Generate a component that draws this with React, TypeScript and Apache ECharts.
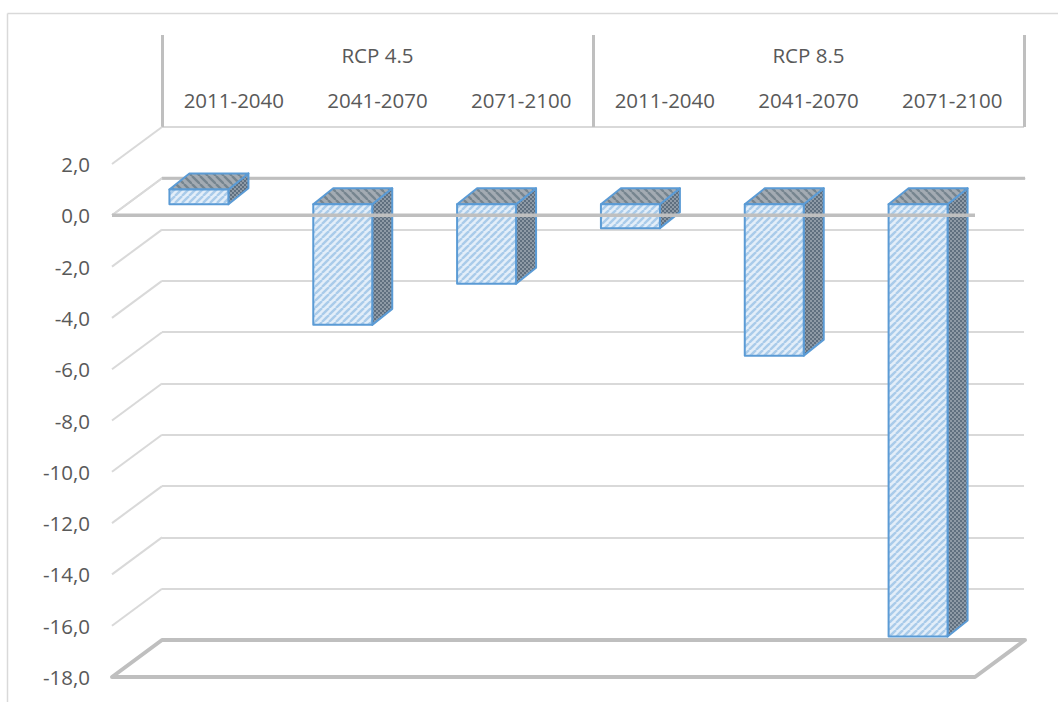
import React, { useEffect, useRef } from "react";
import * as echarts from "echarts";

const periods = ["2011-2040", "2041-2070", "2071-2100", "2011-2040", "2041-2070", "2071-2100"];
const scenarios = ["RCP 4.5", "RCP 8.5"];
const changes = [0.58, -4.7, -3.1, -0.93, -5.9, -16.85];
const gridValues = [2, 0, -2, -4, -6, -8, -10, -12, -14, -16, -18];
const baseValues = [0];
const floorValues = [-18];

const FONT = '"Open Sans", sans-serif';
const TEXT = "#595959";
const LIGHT = "#d9d9d9";
const DARK = "#bfbfbf";
const BLUE = "#5b9bd5";

const WALL_DX = 50;
const WALL_DY = -37;
const BAR_DX = 15;
const BAR_DY = -11;
const DEPTH_DX = 20;
const DEPTH_DY = -16;

function tile(size: number, draw: (c: CanvasRenderingContext2D) => void, bg: string) {
  const cv = document.createElement("canvas");
  cv.width = size;
  cv.height = size;
  const c = cv.getContext("2d")!;
  c.fillStyle = bg;
  c.fillRect(0, 0, size, size);
  draw(c);
  return { image: cv, repeat: "repeat" as const };
}

function stripes(size: number, bg: string, fg: string, width: number, up: boolean) {
  return tile(
    size,
    (c) => {
      c.strokeStyle = fg;
      c.lineWidth = width;
      for (let k = -size; k <= size; k += size) {
        c.beginPath();
        if (up) {
          c.moveTo(k, size);
          c.lineTo(k + size, 0);
        } else {
          c.moveTo(k, 0);
          c.lineTo(k + size, size);
        }
        c.stroke();
      }
    },
    bg
  );
}

function dots(size: number, bg: string, fg: string) {
  return tile(
    size,
    (c) => {
      c.fillStyle = fg;
      c.fillRect(0, 0, size / 2, size / 2);
      c.fillRect(size / 2, size / 2, size / 2, size / 2);
    },
    bg
  );
}

export default function App() {
  const ref = useRef<HTMLDivElement>(null);
  useEffect(() => {
    if (!ref.current) return;
    const chart = echarts.init(ref.current, undefined, { renderer: "svg" });
    const frontFill = stripes(7, "#e3eef9", "#a9cbea", 2.4, true);
    const topFill = stripes(8, "#a3abb3", "#76858f", 2.4, false);
    const sideFill = dots(4, "#8e9aa6", "#5f6f7f");

    const sideLine = (params: any, api: any) => {
      const p = api.coord([0, api.value(1)]);
      const half = api.size([1, 0])[0] / 2;
      const x = p[0] - half;
      const y = p[1];
      return {
        type: "line",
        shape: { x1: x, y1: y, x2: x + WALL_DX, y2: y + WALL_DY },
        style: { stroke: LIGHT, lineWidth: 2, fill: "none" },
      };
    };

    const floor = (params: any, api: any) => {
      const a = api.coord([0, api.value(1)]);
      const b = api.coord([periods.length - 1, api.value(1)]);
      const half = api.size([1, 0])[0] / 2;
      const l = a[0] - half;
      const r = b[0] + half;
      const y = a[1];
      return {
        type: "polygon",
        shape: {
          points: [
            [l, y],
            [l + WALL_DX, y + WALL_DY],
            [r + WALL_DX, y + WALL_DY],
            [r, y],
          ],
        },
        style: { stroke: DARK, lineWidth: 4, fill: "#ffffff", lineJoin: "round" },
      };
    };

    const backBase = (params: any, api: any) => {
      const a = api.coord([0, api.value(1)]);
      const b = api.coord([periods.length - 1, api.value(1)]);
      const half = api.size([1, 0])[0] / 2;
      return {
        type: "group",
        children: [
          {
            type: "line",
            shape: {
              x1: a[0] - half + WALL_DX,
              y1: a[1] + WALL_DY,
              x2: b[0] + half + WALL_DX,
              y2: b[1] + WALL_DY,
            },
            style: { stroke: DARK, lineWidth: 3 },
          },
          {
            type: "line",
            shape: {
              x1: a[0] - half,
              y1: a[1],
              x2: a[0] - half + WALL_DX,
              y2: a[1] + WALL_DY,
            },
            style: { stroke: LIGHT, lineWidth: 2 },
          },
        ],
      };
    };

    const frontBase = (params: any, api: any) => {
      const a = api.coord([0, api.value(1)]);
      const b = api.coord([periods.length - 1, api.value(1)]);
      const half = api.size([1, 0])[0] / 2;
      return {
        type: "line",
        shape: { x1: a[0] - half, y1: a[1], x2: b[0] + half, y2: b[1] },
        style: { stroke: DARK, lineWidth: 3.5 },
      };
    };

    const bar = (params: any, api: any) => {
      const i = api.value(0);
      const v = api.coord([i, api.value(1)]);
      const z = api.coord([i, 0]);
      const w = api.size([1, 0])[0] * 0.41;
      const l = v[0] + BAR_DX - w / 2;
      const r = l + w;
      const t = Math.min(v[1], z[1]) + BAR_DY;
      const b = Math.max(v[1], z[1]) + BAR_DY;
      const edge = { stroke: BLUE, lineWidth: 2, lineJoin: "round" };
      return {
        type: "group",
        children: [
          {
            type: "polygon",
            shape: {
              points: [
                [r, t],
                [r + DEPTH_DX, t + DEPTH_DY],
                [r + DEPTH_DX, b + DEPTH_DY],
                [r, b],
              ],
            },
            style: { ...edge, fill: sideFill },
          },
          {
            type: "polygon",
            shape: {
              points: [
                [l, t],
                [l + DEPTH_DX, t + DEPTH_DY],
                [r + DEPTH_DX, t + DEPTH_DY],
                [r, t],
              ],
            },
            style: { ...edge, fill: topFill },
          },
          {
            type: "polygon",
            shape: {
              points: [
                [l, t],
                [r, t],
                [r, b],
                [l, b],
              ],
            },
            style: { ...edge, fill: frontFill },
          },
        ],
      };
    };

    chart.setOption({
      animation: false,
      backgroundColor: "#ffffff",
      textStyle: { fontFamily: FONT },
      graphic: [
        { type: "line", shape: { x1: 7.5, y1: 13.5, x2: 1058, y2: 13.5 }, style: { stroke: LIGHT, lineWidth: 1.5 } },
        { type: "line", shape: { x1: 7.5, y1: 13.5, x2: 7.5, y2: 702 }, style: { stroke: LIGHT, lineWidth: 1.5 } },
      ],
      grid: [
        { left: 112, top: 164, width: 863, height: 513 },
        { left: 162, top: 127, width: 862, height: 513 },
      ],
      xAxis: [
        { gridIndex: 0, type: "category", data: periods, show: false },
        {
          gridIndex: 1,
          type: "category",
          position: "top",
          data: periods,
          axisLine: { show: true, lineStyle: { color: LIGHT, width: 3 } },
          axisTick: { show: false },
          axisLabel: { interval: 0, color: TEXT, fontSize: 20.5, fontFamily: FONT, margin: 17 },
        },
        {
          gridIndex: 1,
          type: "category",
          position: "top",
          data: scenarios,
          axisLine: { show: false },
          axisTick: { show: true, inside: false, length: 92, lineStyle: { color: DARK, width: 3 } },
          axisLabel: { interval: 0, color: TEXT, fontSize: 20.5, fontFamily: FONT, margin: 62 },
        },
      ],
      yAxis: [
        {
          gridIndex: 0,
          type: "value",
          min: -18,
          max: 2,
          interval: 2,
          axisLine: { show: false },
          axisTick: { show: false },
          splitLine: { show: false },
          axisLabel: {
            color: TEXT,
            fontSize: 20.5,
            fontFamily: FONT,
            margin: 22,
            formatter: (v: number) => v.toFixed(1).replace(".", ","),
          },
        },
        {
          gridIndex: 1,
          type: "value",
          min: -18,
          max: 2,
          interval: 2,
          axisLine: { show: false },
          axisTick: { show: false },
          axisLabel: { show: false },
          splitLine: { show: true, lineStyle: { color: LIGHT, width: 2 } },
        },
      ],
      series: [
        {
          type: "custom",
          name: "side wall",
          xAxisIndex: 0,
          yAxisIndex: 0,
          clip: false,
          silent: true,
          z: 1,
          renderItem: sideLine,
          data: gridValues.map((v) => [0, v]),
        },
        {
          type: "custom",
          name: "floor",
          xAxisIndex: 0,
          yAxisIndex: 0,
          clip: false,
          silent: true,
          z: 2,
          renderItem: floor,
          data: floorValues.map((v) => [0, v]),
        },
        {
          type: "custom",
          name: "back base",
          xAxisIndex: 0,
          yAxisIndex: 0,
          clip: false,
          silent: true,
          z: 2,
          renderItem: backBase,
          data: baseValues.map((v) => [0, v]),
        },
        {
          type: "custom",
          name: "Change",
          xAxisIndex: 0,
          yAxisIndex: 0,
          clip: false,
          silent: true,
          z: 3,
          renderItem: bar,
          data: changes.map((v, i) => [i, v]),
        },
        {
          type: "custom",
          name: "front base",
          xAxisIndex: 0,
          yAxisIndex: 0,
          clip: false,
          silent: true,
          z: 4,
          renderItem: frontBase,
          data: baseValues.map((v) => [0, v]),
        },
      ],
    });
    return () => chart.dispose();
  }, []);
  return (
    <div
      ref={ref}
      style={{ position: "absolute", left: 0, top: 0, width: 1058, height: 702 }}
    />
  );
}
